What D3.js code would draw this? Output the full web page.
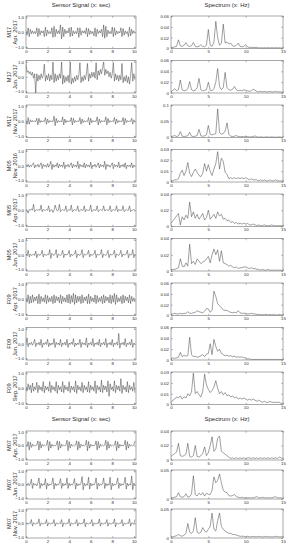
<!DOCTYPE html>
<html><head><meta charset="utf-8">
<script src="https://cdn.jsdelivr.net/npm/d3@7"></script>
<style>body{margin:0;background:#fff}svg{display:block}</style>
</head><body><svg id="c" width="289" height="550"></svg>
<script>
// ---------- DATA ----------
const machines = ["M17","M17","M17","M05","M05","M05","F09","F09","F09","M07","M07","M07"];
const dates = ["Apr. 2017","Jun. 2017","Nov. 2017","Nov. 2016","Apr. 2017","Jun. 2017","Apr. 2017","Jun. 2017","Sep. 2017","Apr. 2017","Jun. 2017","Nov. 2017"];
const signalTitle = "Sensor Signal (x: sec)";
const spectrumTitle = "Spectrum (x: Hz)";
const timeTicks = [0,2,4,6,8,10];
const signalTicks = [-1,0,1];
const freqTicks = [0,5,10,15];
const specMax = [0.06,0.06,0.1,0.03,0.04,0.04,0.06,0.06,0.03,0.04,0.05,0.05];
const specTicks = [
  [0,0.02,0.04,0.06],[0,0.02,0.04,0.06],[0,0.05,0.1],[0,0.01,0.02,0.03],
  [0,0.02,0.04],[0,0.02,0.04],[0,0.02,0.04,0.06],[0,0.02,0.04,0.06],
  [0,0.01,0.02,0.03],[0,0.02,0.04],[0,0.05],[0,0.05]
];
const SIGNAL_DT = 0.1;   // sample spacing of signal arrays (sec)
const SPEC_DF = 0.25;    // sample spacing of spectrum arrays (Hz)

const sig1 = [0.1,-0.2,0.3,-0.3,0.2,-0.1,0.1,-0.1,0.05,-0.1,
 0.3,-0.3,0.25,-0.2,0.1,-0.05,0.1,-0.3,0.35,-0.25,
 0.15,-0.1,0.05,-0.1,0.3,-0.35,0.4,-0.3,0.2,-0.1,
 0.1,-0.1,0.5,-0.45,0.35,-0.3,0.2,-0.1,0.1,-0.05,
 0.3,-0.3,0.35,-0.25,0.1,-0.1,0.05,-0.1,0.3,-0.35,
 0.3,-0.2,0.1,-0.05,0.1,-0.1,0.3,-0.3,0.25,-0.15,
 0.1,-0.1,0.05,-0.25,0.3,-0.3,0.2,-0.1,0.1,-0.05,
 0.2,-0.3,0.5,-0.4,0.4,-0.3,0.15,-0.1,0.05,-0.1,
 0.35,-0.3,0.3,-0.2,0.1,-0.1,0.05,-0.05,0.3,-0.3,
 0.25,-0.2,0.1,-0.1,0.05,-0.3,0.35,-0.25,0.2,-0.1,
 0.1,-0.05];
const sig2 = [0.9,0.3,0.4,0.2,0.35,0.1,0.3,-0.1,0.2,-1.1,
 0.2,-0.3,0.1,-0.2,0.2,-0.1,0.1,0.85,-0.3,0.1,
 -0.2,0.2,-0.3,0.1,-0.2,1.0,-0.4,0.2,-0.3,0.1,
 -0.2,0.2,-0.1,1.0,-0.5,0.1,-0.4,0.0,-0.3,0.1,
 -0.4,1.0,-0.5,-0.1,-0.4,0.0,-0.3,0.1,-0.2,0.1,
 0.95,-0.4,0.0,-0.3,0.1,-0.2,0.2,0.9,-0.3,0.2,
 -0.1,0.3,0.0,0.3,-0.1,0.95,-0.2,0.4,0.1,0.5,
 0.2,0.6,1.0,0.1,0.5,0.2,0.4,0.0,0.3,-0.1,
 0.2,0.95,-0.3,0.2,-0.2,0.1,-0.3,0.1,-0.2,0.9,
 -0.4,0.0,-0.3,0.1,-0.4,0.0,-0.5,0.1,0.95,-0.3,
 0.2,-0.2];
const sig3 = [0.05,-0.2,0.25,-0.2,0.1,-0.05,0.05,-0.05,0.03,-0.03,
 0.2,-0.25,0.2,-0.1,0.05,-0.05,0.03,-0.03,0.25,-0.2,
 0.15,-0.1,0.05,-0.05,0.03,-0.03,0.35,-0.3,0.2,-0.1,
 0.05,-0.05,0.03,-0.05,0.3,-0.25,0.15,-0.1,0.05,-0.05,
 0.03,-0.03,0.25,-0.25,0.2,-0.1,0.05,-0.05,0.03,-0.03,
 0.25,-0.2,0.15,-0.1,0.05,-0.05,0.03,-0.03,0.25,-0.25,
 0.2,-0.1,0.05,-0.05,0.03,-0.03,0.3,-0.25,0.15,-0.1,
 0.05,-0.05,0.03,-0.03,0.3,-0.25,0.2,-0.1,0.05,-0.05,
 0.03,-0.03,0.25,-0.2,0.15,-0.1,0.05,-0.05,0.03,-0.03,
 0.25,-0.25,0.2,-0.1,0.05,-0.05,0.03,-0.03,0.2,-0.2,
 0.1,-0.05];
const sig4 = [0.05,-0.05,0.1,-0.1,0.05,-0.05,0.1,0.2,-0.15,0.05,
 -0.05,0.1,-0.1,0.05,0.2,-0.2,0.1,-0.05,0.05,-0.1,
 0.15,-0.1,0.05,0.3,-0.25,0.1,-0.1,0.05,-0.05,0.2,
 -0.15,0.1,-0.05,0.05,-0.1,0.25,-0.2,0.05,-0.05,0.1,
 -0.1,0.05,0.2,-0.15,0.1,-0.05,0.05,-0.1,0.3,-0.2,
 0.1,-0.05,0.05,-0.1,0.2,-0.15,0.1,-0.05,0.05,-0.1,
 0.25,-0.2,0.05,-0.05,0.1,-0.1,0.05,0.2,-0.15,0.1,
 -0.05,0.05,-0.1,0.3,-0.25,0.1,-0.05,0.05,-0.1,0.05,
 0.2,-0.2,0.1,-0.05,0.05,-0.1,0.25,-0.15,0.05,-0.05,
 0.1,-0.1,0.2,-0.2,0.05,-0.05,0.05,-0.1,0.2,-0.15,
 0.05,-0.05];
const sig5 = [0.05,0.0,-0.2,0.05,0.0,0.1,0.0,0.4,-0.1,0.0,
 0.05,0.0,0.05,0.0,0.35,-0.1,0.05,0.0,0.0,0.05,
 0.0,0.3,-0.1,0.0,0.05,-0.15,0.0,0.35,0.1,-0.05,
 0.0,0.4,-0.1,0.0,0.05,0.0,0.0,0.3,-0.1,0.0,
 0.05,0.0,0.35,-0.1,0.0,0.05,0.0,0.0,0.3,-0.1,
 0.0,0.05,0.0,0.0,0.3,-0.1,0.05,0.0,0.0,0.0,
 0.35,-0.1,0.0,0.05,0.0,0.0,0.3,-0.1,0.0,0.05,
 0.0,0.0,0.3,-0.05,0.0,0.05,0.0,0.0,0.3,-0.1,
 0.0,0.05,0.0,0.0,0.3,-0.1,0.05,0.0,0.0,0.0,
 0.3,-0.1,0.0,0.05,0.0,0.0,0.3,-0.1,0.0,0.0,
 0.05,0.0];
const sig6 = [0.05,-0.05,0.3,-0.15,0.05,-0.05,0.0,0.05,-0.05,0.25,
 -0.2,0.05,0.0,-0.05,0.05,0.3,-0.15,0.05,0.0,-0.05,
 0.05,0.0,0.35,-0.25,0.1,0.0,-0.05,0.05,0.35,-0.2,
 0.05,0.0,-0.05,0.05,0.3,-0.2,0.05,0.0,0.0,0.05,
 0.3,-0.15,0.05,-0.05,0.0,0.05,0.3,-0.2,0.05,0.0,
 -0.05,0.05,0.35,-0.2,0.05,0.0,0.0,0.05,0.3,-0.15,
 0.05,-0.05,0.0,0.05,0.3,-0.2,0.05,0.0,0.0,0.05,
 0.35,-0.2,0.05,0.0,-0.05,0.05,0.3,-0.2,0.05,0.0,
 0.0,0.05,0.3,-0.2,0.05,0.0,-0.05,0.05,0.3,-0.15,
 0.05,0.0,0.0,0.05,0.3,-0.2,0.05,0.0,0.0,0.35,
 -0.2,0.05];
const sig7 = [0.1,-0.2,0.3,-0.3,0.2,-0.25,0.3,-0.2,0.15,-0.1,
 0.2,-0.3,0.35,-0.3,0.2,-0.15,0.1,-0.2,0.3,-0.3,
 0.25,-0.2,0.1,-0.15,0.2,-0.3,0.3,-0.25,0.2,-0.1,
 0.15,-0.25,0.3,-0.3,0.2,-0.15,0.1,-0.2,0.3,-0.25,
 0.35,-0.3,0.25,-0.2,0.4,-0.35,0.3,-0.25,0.2,-0.15,
 0.2,-0.3,0.3,-0.25,0.15,-0.1,0.2,-0.3,0.35,-0.3,
 0.2,-0.15,0.1,-0.2,0.3,-0.3,0.25,-0.2,0.1,-0.15,
 0.2,-0.3,0.3,-0.25,0.2,-0.1,0.15,-0.25,0.3,-0.3,
 0.25,-0.2,0.4,-0.35,0.3,-0.2,0.1,-0.15,0.2,-0.3,
 0.3,-0.25,0.2,-0.1,0.15,-0.25,0.3,-0.3,0.2,-0.15,
 0.1,-0.2];
const sig8 = [0.0,0.4,-0.2,0.05,-0.05,0.1,-0.1,0.05,0.3,-0.2,
 0.05,-0.05,0.1,-0.1,0.3,-0.25,0.05,-0.05,0.1,-0.05,
 0.3,-0.2,0.05,-0.1,0.05,-0.05,0.35,-0.25,0.1,-0.05,
 0.05,-0.1,0.3,-0.2,0.05,-0.05,0.1,-0.1,0.3,-0.25,
 0.05,-0.05,0.1,-0.05,0.35,-0.2,0.05,-0.1,0.05,-0.05,
 0.3,-0.25,0.1,-0.05,0.05,-0.1,0.4,-0.25,0.05,-0.05,
 0.1,-0.1,0.35,-0.2,0.05,-0.05,0.1,-0.1,0.3,-0.2,
 0.05,-0.05,0.1,-0.1,0.35,-0.25,0.05,-0.05,0.1,-0.1,
 0.3,-0.2,0.05,-0.05,0.1,-0.1,0.7,-0.3,0.05,-0.05,
 0.1,-0.1,0.35,-0.2,0.05,-0.05,0.1,-0.1,0.3,-0.25,
 0.05,-0.05];
const sig9 = [0.1,-0.2,0.3,-0.1,0.2,-0.3,0.35,-0.2,0.1,-0.1,
 0.4,-0.3,0.2,-0.1,0.1,-0.2,0.45,-0.3,0.15,-0.1,
 0.1,-0.2,0.45,-0.3,0.2,-0.1,0.1,-0.2,0.45,-0.35,
 0.2,-0.1,0.1,-0.25,0.45,-0.3,0.2,-0.1,0.1,-0.2,
 0.45,-0.3,0.15,-0.1,0.1,-0.25,0.5,-0.35,0.2,-0.1,
 0.1,-0.2,0.4,-0.3,0.2,-0.1,0.1,-0.25,0.45,-0.3,
 0.2,-0.1,0.1,-0.2,0.5,-0.35,0.2,-0.1,0.1,-0.25,
 0.55,-0.3,0.2,-0.1,0.15,-0.25,0.5,-0.55,0.3,-0.1,
 0.1,-0.2,0.5,-0.3,0.2,-0.1,0.15,-0.2,0.65,-0.35,
 0.2,-0.1,0.1,-0.25,0.45,-0.3,0.2,-0.1,0.1,-0.2,
 0.4,-0.3];
const sig10 = [0.05,-0.05,0.3,-0.35,0.25,-0.15,0.1,-0.05,0.03,-0.03,
 0.03,0.35,-0.35,0.3,-0.2,0.1,-0.05,0.03,-0.03,0.03,
 0.4,-0.4,0.3,-0.2,0.1,-0.05,0.03,-0.03,0.03,0.35,
 -0.35,0.3,-0.2,0.1,-0.05,0.03,-0.03,0.03,0.4,-0.4,
 0.3,-0.2,0.1,-0.05,0.03,-0.03,0.03,0.35,-0.35,0.3,
 -0.2,0.1,-0.05,0.03,-0.03,0.03,0.4,-0.4,0.3,-0.2,
 0.1,-0.05,0.03,-0.03,0.03,0.35,-0.35,0.3,-0.2,0.1,
 -0.05,0.03,-0.03,0.03,0.4,-0.35,0.3,-0.2,0.1,-0.05,
 0.03,-0.03,0.03,0.35,-0.4,0.3,-0.2,0.1,-0.05,0.03,
 -0.03,0.03,0.4,-0.35,0.3,-0.2,0.1,-0.05,0.03,-0.03,
 0.03,0.35];
const sig11 = [0.05,-0.05,0.1,-0.1,0.05,0.4,-0.3,0.1,-0.05,0.05,
 -0.1,0.1,0.5,-0.3,0.1,-0.1,0.05,-0.05,0.45,-0.35,
 0.1,-0.1,0.05,-0.05,0.1,0.5,-0.35,0.1,-0.1,0.05,
 -0.05,0.1,0.45,-0.3,0.1,-0.1,0.05,-0.05,0.5,-0.3,
 0.1,-0.1,0.05,-0.05,0.1,0.45,-0.35,0.1,-0.1,0.05,
 -0.05,0.1,0.6,-0.4,0.1,-0.1,0.05,-0.05,0.55,-0.35,
 0.1,-0.1,0.05,-0.05,0.1,0.5,-0.35,0.1,-0.1,0.05,
 -0.05,0.1,0.5,-0.3,0.1,-0.1,0.05,-0.05,0.55,-0.4,
 0.1,-0.1,0.05,-0.05,0.1,0.5,-0.3,0.1,-0.1,0.05,
 -0.05,0.1,0.55,-0.35,0.1,-0.1,0.05,-0.05,0.65,-0.4,
 0.1,-0.1];
const sig12 = [0.0,0.05,-0.05,0.05,0.0,0.3,-0.2,0.05,0.0,-0.05,
 0.05,0.0,0.35,-0.2,0.05,0.0,-0.05,0.05,0.0,0.3,
 -0.2,0.05,0.0,-0.05,0.05,0.0,0.3,-0.2,0.05,0.0,
 -0.05,0.05,0.0,0.3,-0.25,0.05,0.0,-0.05,0.05,0.0,
 0.35,-0.2,0.05,0.0,-0.05,0.05,0.0,0.3,-0.2,0.05,
 0.0,-0.05,0.05,0.0,0.35,-0.25,0.05,0.0,-0.05,0.05,
 0.0,0.3,-0.2,0.05,0.0,-0.05,0.05,0.0,0.35,-0.2,
 0.05,0.0,-0.05,0.05,0.0,0.3,-0.2,0.05,0.0,-0.05,
 0.05,0.0,0.35,-0.25,0.05,0.0,-0.05,0.05,0.0,0.3,
 -0.2,0.05,0.0,-0.05,0.05,0.0,0.35,-0.2,0.05,0.0,
 -0.05,0.3];

const spec1 = [0.001,0.002,0.003,0.004,0.016,0.005,0.004,0.006,0.011,0.005,
 0.004,0.005,0.011,0.004,0.003,0.004,0.007,0.004,0.003,0.006,
 0.035,0.006,0.004,0.012,0.05,0.02,0.006,0.01,0.045,0.01,
 0.012,0.008,0.01,0.005,0.004,0.006,0.01,0.004,0.003,0.004,
 0.007,0.003,0.002,0.002,0.002,0.002,0.002,0.001,0.0015,0.001,
 0.0015,0.001,0.0015,0.001,0.0015,0.001,0.0015,0.001,0.0015,0.001,0.001];
const spec2 = [0.002,0.005,0.008,0.004,0.006,0.024,0.006,0.004,0.005,0.008,
 0.021,0.006,0.004,0.005,0.01,0.027,0.006,0.004,0.005,0.006,
 0.02,0.005,0.004,0.008,0.02,0.045,0.012,0.006,0.01,0.038,
 0.01,0.006,0.005,0.007,0.012,0.006,0.004,0.005,0.004,0.006,
 0.005,0.004,0.003,0.004,0.007,0.005,0.003,0.002,0.003,0.002,
 0.003,0.002,0.002,0.003,0.002,0.002,0.003,0.002,0.002,0.002,0.001];
const spec3 = [0.002,0.004,0.006,0.003,0.005,0.018,0.004,0.003,0.004,0.005,
 0.016,0.004,0.003,0.004,0.006,0.025,0.005,0.004,0.005,0.008,
 0.037,0.01,0.008,0.01,0.012,0.088,0.015,0.01,0.012,0.02,
 0.045,0.01,0.004,0.003,0.004,0.006,0.003,0.002,0.003,0.002,
 0.004,0.002,0.002,0.002,0.003,0.005,0.002,0.001,0.002,0.001,
 0.001,0.002,0.001,0.001,0.002,0.001,0.001,0.001,0.002,0.001,0.001];
const spec4 = [0.001,0.001,0.002,0.002,0.003,0.008,0.011,0.006,0.01,0.018,
 0.008,0.005,0.009,0.012,0.009,0.006,0.005,0.008,0.017,0.01,
 0.016,0.01,0.006,0.012,0.017,0.028,0.012,0.022,0.019,0.009,
 0.007,0.003,0.004,0.003,0.004,0.003,0.004,0.003,0.004,0.003,
 0.004,0.003,0.002,0.003,0.002,0.002,0.002,0.001,0.002,0.001,
 0.002,0.001,0.001,0.002,0.001,0.001,0.002,0.001,0.001,0.001,0.001];
const spec5 = [0.004,0.007,0.01,0.013,0.016,0.002,0.012,0.008,0.014,0.01,
 0.03,0.012,0.018,0.01,0.015,0.009,0.012,0.016,0.008,0.011,
 0.02,0.009,0.012,0.015,0.01,0.018,0.013,0.015,0.009,0.01,
 0.007,0.008,0.005,0.006,0.004,0.005,0.003,0.004,0.003,0.004,
 0.003,0.004,0.002,0.002,0.003,0.002,0.001,0.002,0.001,0.001,
 0.002,0.001,0.001,0.001,0.002,0.001,0.001,0.001,0.001,0.001,0.001];
const spec6 = [0.001,0.002,0.002,0.003,0.004,0.015,0.006,0.005,0.01,0.006,
 0.033,0.009,0.012,0.008,0.015,0.012,0.009,0.011,0.012,0.015,
 0.018,0.01,0.02,0.027,0.02,0.026,0.012,0.025,0.01,0.009,
 0.008,0.006,0.007,0.005,0.004,0.005,0.003,0.004,0.004,0.005,
 0.005,0.004,0.003,0.004,0.003,0.003,0.002,0.002,0.001,0.002,
 0.001,0.001,0.002,0.001,0.001,0.001,0.001,0.001,0.001,0.001,0.001];
const spec7 = [0.002,0.003,0.004,0.003,0.003,0.004,0.003,0.004,0.004,0.007,
 0.004,0.004,0.005,0.006,0.009,0.007,0.006,0.005,0.008,0.013,
 0.012,0.006,0.01,0.045,0.035,0.022,0.018,0.014,0.011,0.009,
 0.01,0.007,0.006,0.005,0.006,0.005,0.009,0.005,0.004,0.004,
 0.004,0.003,0.003,0.004,0.003,0.003,0.002,0.002,0.002,0.001,
 0.002,0.002,0.001,0.002,0.001,0.002,0.001,0.001,0.002,0.001,0.001];
const spec8 = [0.002,0.004,0.003,0.004,0.005,0.014,0.006,0.009,0.007,0.008,
 0.042,0.01,0.006,0.007,0.005,0.006,0.008,0.01,0.006,0.011,
 0.012,0.03,0.01,0.038,0.025,0.016,0.02,0.012,0.01,0.008,
 0.009,0.007,0.008,0.006,0.007,0.005,0.006,0.005,0.006,0.004,
 0.004,0.002,0.002,0.001,0.001,0.001,0.001,0.001,0.001,0.001,
 0.001,0.001,0.001,0.001,0.001,0.001,0.001,0.001,0.001,0.001,0.001];
const spec9 = [0.002,0.004,0.005,0.007,0.006,0.008,0.005,0.007,0.006,0.01,
 0.008,0.012,0.029,0.01,0.012,0.009,0.007,0.012,0.028,0.018,
 0.014,0.011,0.013,0.016,0.022,0.015,0.01,0.012,0.009,0.011,
 0.008,0.009,0.007,0.008,0.006,0.007,0.005,0.006,0.005,0.006,
 0.005,0.004,0.005,0.004,0.005,0.004,0.003,0.004,0.003,0.002,
 0.003,0.002,0.002,0.003,0.002,0.002,0.002,0.002,0.002,0.001,0.001];
const spec10 = [0.005,0.007,0.009,0.011,0.023,0.006,0.005,0.006,0.008,0.023,
 0.005,0.004,0.006,0.02,0.005,0.004,0.006,0.009,0.018,0.006,
 0.01,0.02,0.032,0.012,0.015,0.03,0.033,0.012,0.01,0.008,
 0.006,0.004,0.002,0.003,0.002,0.003,0.002,0.003,0.002,0.003,
 0.002,0.003,0.003,0.002,0.003,0.002,0.003,0.002,0.003,0.002,
 0.003,0.002,0.003,0.002,0.003,0.002,0.003,0.002,0.004,0.003,0.002];
const spec11 = [0.001,0.002,0.003,0.004,0.011,0.004,0.003,0.004,0.009,0.003,
 0.004,0.009,0.04,0.008,0.005,0.01,0.007,0.011,0.005,0.01,
 0.008,0.008,0.015,0.038,0.028,0.032,0.043,0.028,0.015,0.012,
 0.011,0.006,0.005,0.006,0.008,0.004,0.003,0.002,0.003,0.002,
 0.002,0.002,0.002,0.002,0.002,0.003,0.004,0.002,0.002,0.003,
 0.002,0.002,0.002,0.002,0.002,0.003,0.004,0.002,0.002,0.002,0.001];
const spec12 = [0.002,0.002,0.003,0.004,0.006,0.004,0.003,0.005,0.008,0.025,
 0.01,0.008,0.012,0.035,0.01,0.008,0.01,0.018,0.012,0.01,
 0.015,0.02,0.043,0.015,0.012,0.03,0.043,0.02,0.015,0.012,
 0.01,0.008,0.008,0.006,0.006,0.005,0.004,0.003,0.003,0.003,
 0.002,0.003,0.002,0.002,0.003,0.002,0.002,0.003,0.002,0.002,
 0.002,0.003,0.002,0.002,0.002,0.002,0.003,0.002,0.002,0.002,0.002];

const signals = [sig1,sig2,sig3,sig4,sig5,sig6,sig7,sig8,sig9,sig10,sig11,sig12];
const spectra = [spec1,spec2,spec3,spec4,spec5,spec6,spec7,spec8,spec9,spec10,spec11,spec12];

// ---------- LAYOUT ----------
const W = 289, H = 550;
const leftX = [26, 136], rightX = [171, 283];
const rowTop = [16, 60.5, 105, 149.5, 194, 238.5, 283, 327.5, 372, 431, 470, 509];
const rowH   = [32.5,32.5,32.5,32.5,32.5,32.5,32.5,32.5,32.5, 29, 29, 29];
const titleY = [7, 421];
const frameColor = "#6e6e6e", lineColor = "#404040", textColor = "#2a2a2a";
const font = "'Liberation Sans', Arial, sans-serif";

const svg = d3.select("#c");
svg.append("rect").attr("width", W).attr("height", H).attr("fill", "#fff");

function styleAxis(g) {
  g.select(".domain").remove();
  g.selectAll(".tick line").attr("stroke", frameColor).attr("stroke-width", 0.5);
  g.selectAll(".tick text").attr("fill", textColor).attr("font-size", 4.4).attr("font-family", font);
}

titleY.forEach(ty => {
  svg.append("text").attr("x", (leftX[0]+leftX[1])/2).attr("y", ty)
    .attr("text-anchor", "middle").attr("font-size", 6).attr("font-family", font)
    .attr("fill", textColor).text(signalTitle);
  svg.append("text").attr("x", (rightX[0]+rightX[1])/2).attr("y", ty)
    .attr("text-anchor", "middle").attr("font-size", 6).attr("font-family", font)
    .attr("fill", textColor).text(spectrumTitle);
});

signals.forEach((sig, i) => {
  const top = rowTop[i], bot = rowTop[i] + rowH[i];
  // ---- left: signal ----
  const x = d3.scaleLinear().domain([0, 10.2]).range(leftX);
  const y = d3.scaleLinear().domain([-1.1, 1.1]).range([bot, top]);
  const gL = svg.append("g");
  const cid = "clipL" + i;
  svg.append("clipPath").attr("id", cid).append("rect")
    .attr("x", leftX[0]).attr("y", top).attr("width", leftX[1]-leftX[0]).attr("height", bot-top);
  gL.append("path").datum(sig)
    .attr("clip-path", `url(#${cid})`)
    .attr("fill", "none").attr("stroke", lineColor).attr("stroke-width", 0.5)
    .attr("d", d3.line().x((d, k) => x(k * SIGNAL_DT)).y(d => y(d)));
  gL.append("g").attr("transform", `translate(0,${bot})`)
    .call(d3.axisBottom(x).tickValues(timeTicks).tickSize(-1.8).tickPadding(1.6)).call(styleAxis);
  gL.append("g").attr("transform", `translate(0,${top})`)
    .call(d3.axisTop(x).tickValues(timeTicks).tickSize(-1.8).tickFormat("")).call(styleAxis);
  gL.append("g").attr("transform", `translate(${leftX[0]},0)`)
    .call(d3.axisLeft(y).tickValues(signalTicks).tickSize(-1.8).tickPadding(2)).call(styleAxis);
  gL.append("g").attr("transform", `translate(${leftX[1]},0)`)
    .call(d3.axisRight(y).tickValues(signalTicks).tickSize(-1.8).tickFormat("")).call(styleAxis);
  gL.append("rect").attr("x", leftX[0]).attr("y", top).attr("width", leftX[1]-leftX[0]).attr("height", bot-top)
    .attr("fill", "none").attr("stroke", frameColor).attr("stroke-width", 0.6);
  // row label
  const cy = (top + bot) / 2;
  svg.append("text").attr("transform", `translate(11,${cy}) rotate(-90)`)
    .attr("text-anchor", "middle").attr("font-size", 5.7).attr("font-family", font)
    .attr("fill", textColor).text(machines[i]);
  svg.append("text").attr("transform", `translate(17,${cy}) rotate(-90)`)
    .attr("text-anchor", "middle").attr("font-size", 5.7).attr("font-family", font)
    .attr("fill", textColor).text(dates[i]);

  // ---- right: spectrum ----
  const spec = spectra[i];
  const fx = d3.scaleLinear().domain([0, 15]).range(rightX);
  const fy = d3.scaleLinear().domain([0, specMax[i]]).range([bot, top]);
  const gR = svg.append("g");
  gR.append("path").datum(spec)
    .attr("fill", "none").attr("stroke", lineColor).attr("stroke-width", 0.5)
    .attr("d", d3.line().x((d, k) => fx(k * SPEC_DF)).y(d => fy(d)));
  gR.append("g").attr("transform", `translate(0,${bot})`)
    .call(d3.axisBottom(fx).tickValues(freqTicks).tickSize(-1.8).tickPadding(1.6)).call(styleAxis);
  gR.append("g").attr("transform", `translate(0,${top})`)
    .call(d3.axisTop(fx).tickValues(freqTicks).tickSize(-1.8).tickFormat("")).call(styleAxis);
  gR.append("g").attr("transform", `translate(${rightX[0]},0)`)
    .call(d3.axisLeft(fy).tickValues(specTicks[i]).tickSize(-1.8).tickPadding(2).tickFormat(d => String(d))).call(styleAxis);
  gR.append("g").attr("transform", `translate(${rightX[1]},0)`)
    .call(d3.axisRight(fy).tickValues(specTicks[i]).tickSize(-1.8).tickFormat("")).call(styleAxis);
  gR.append("rect").attr("x", rightX[0]).attr("y", top).attr("width", rightX[1]-rightX[0]).attr("height", bot-top)
    .attr("fill", "none").attr("stroke", frameColor).attr("stroke-width", 0.6);
});
</script>
</body></html>
